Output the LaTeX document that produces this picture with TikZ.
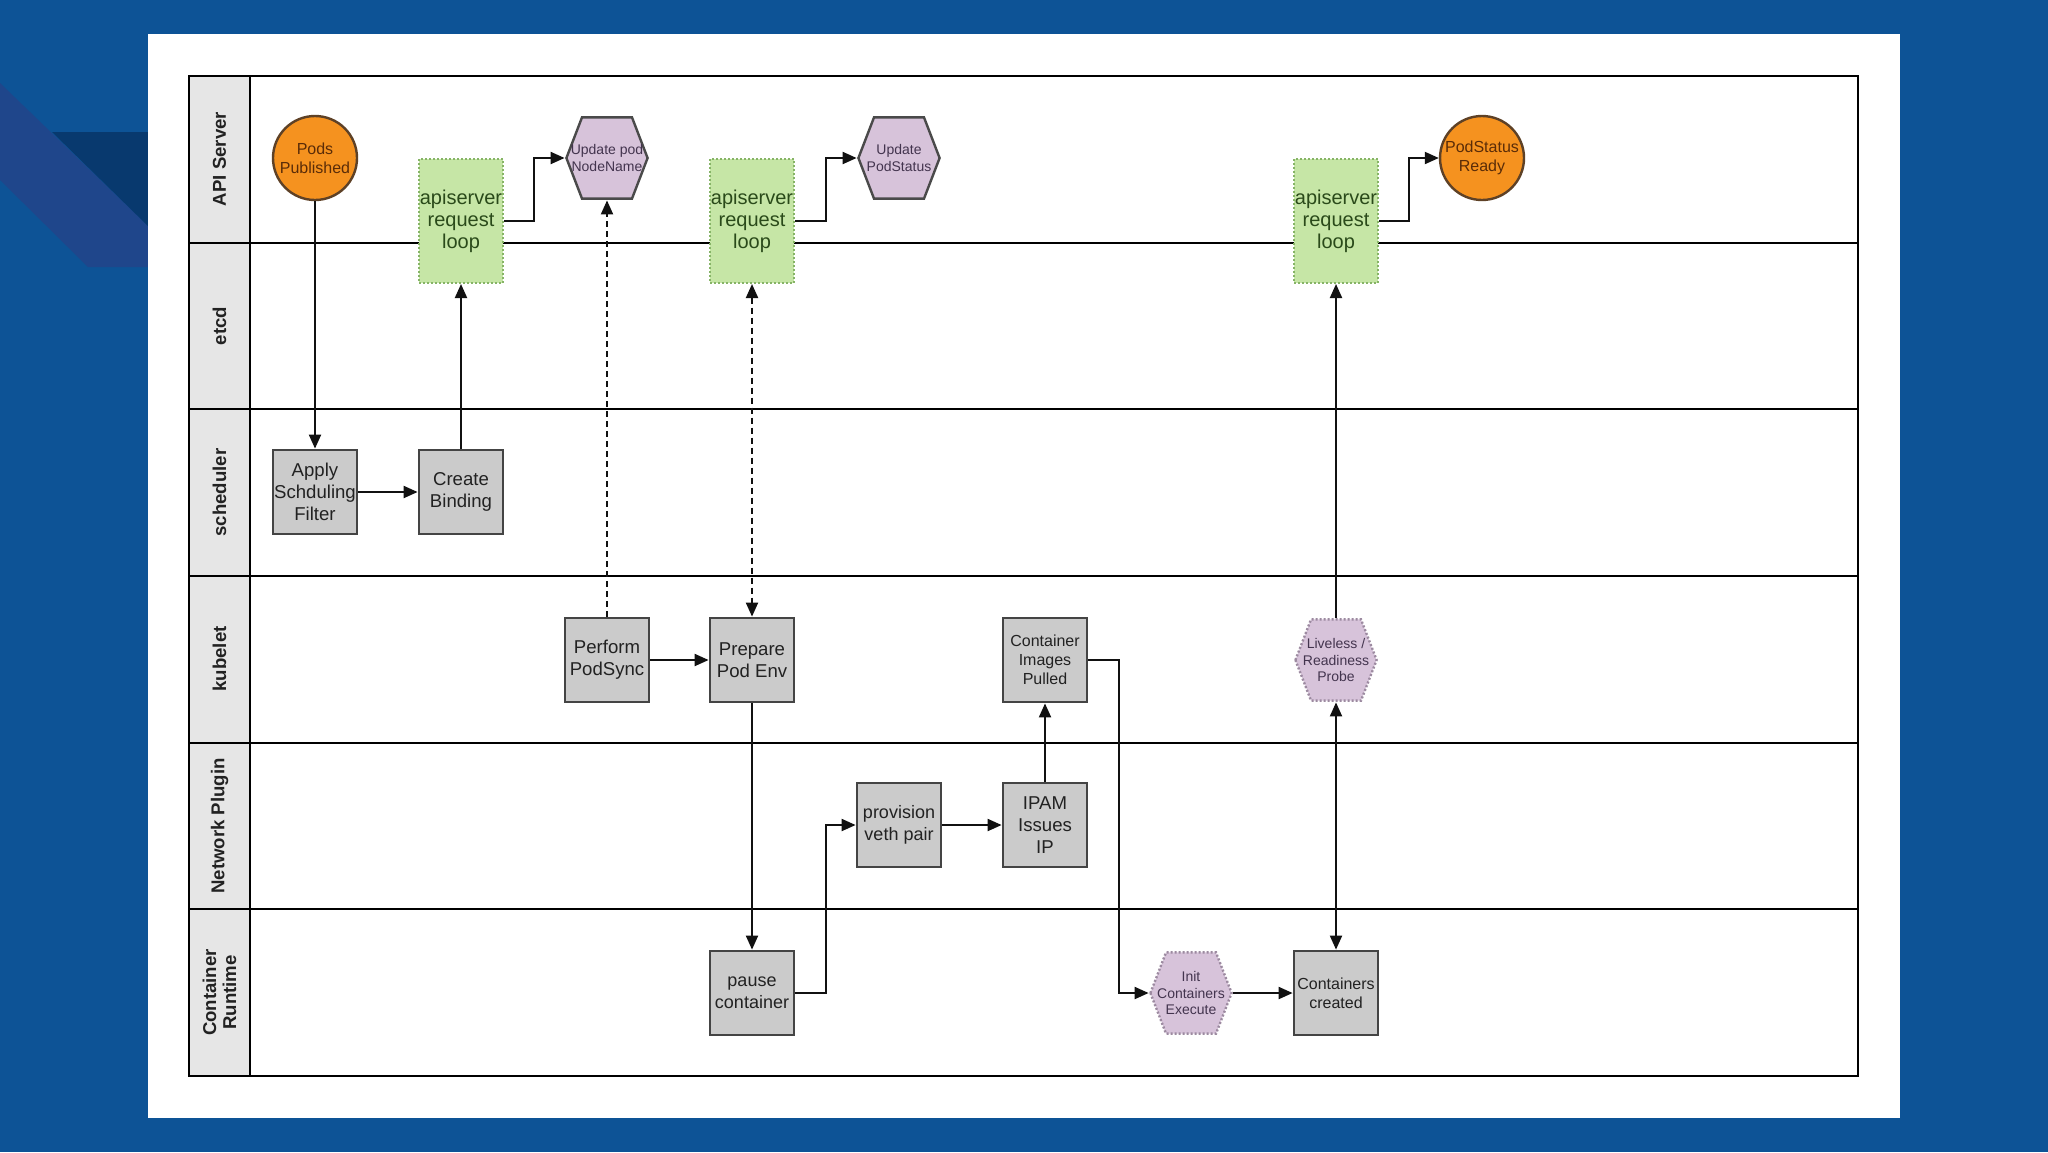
\documentclass[tikz,border=0pt]{standalone}
\usepackage{fontspec}
\setmainfont{Liberation Sans}
\usetikzlibrary{arrows.meta,calc}
\definecolor{bgblue}{HTML}{0D5396}
\definecolor{bandblue}{HTML}{1F468B}
\definecolor{darkblue}{HTML}{08396E}
\definecolor{lanegray}{HTML}{E6E6E6}
\definecolor{boxgray}{HTML}{CBCBCB}
\definecolor{boxline}{HTML}{444444}
\definecolor{boxtext}{HTML}{222222}
\definecolor{apigreen}{HTML}{C6E6A6}
\definecolor{apiline}{HTML}{86B466}
\definecolor{apitext}{HTML}{2A4A1A}
\definecolor{hexfill}{HTML}{D7C3DA}
\definecolor{hexline}{HTML}{4A4A4A}
\definecolor{hexdot}{HTML}{9C8AA0}
\definecolor{hextext}{HTML}{43344E}
\definecolor{evorange}{HTML}{F5921F}
\definecolor{evline}{HTML}{5E4126}
\definecolor{evtext}{HTML}{5A2C08}
\definecolor{connline}{HTML}{111111}
\begin{document}
\begin{tikzpicture}[x=0.5pt,y=-0.5pt,
  >={Triangle[length=7pt,width=6pt]},
  lanetitle/.style={rotate=90, font=\bfseries\fontsize{9.3}{10}\selectfont, text=boxtext, align=center},
  greybox/.style={rectangle, draw=boxline, line width=1.4pt, fill=boxgray, minimum width=42pt, minimum height=42pt, inner sep=0pt, align=center, text=boxtext, font=\fontsize{9.3}{11}\selectfont},
  apibox/.style={rectangle, draw=apiline, line width=1pt, dash pattern=on 1pt off 1pt, fill=apigreen, minimum width=42pt, minimum height=62pt, inner sep=0pt, align=center, text=apitext, font=\fontsize{10}{11}\selectfont},
  eventcircle/.style={circle, draw=evline, line width=1.2pt, fill=evorange, minimum size=42pt, inner sep=0pt, align=center, text=evtext, font=\fontsize{8}{9.5}\selectfont},
  hexshape/.style 2 args={rectangle, minimum width=42pt, minimum height=42pt, inner sep=0pt, align=center, text=hextext, font=\fontsize{7}{8.3}\selectfont,
    path picture={\filldraw[fill=hexfill, draw=#1, line width=1.2pt, #2]
      ([xshift=0.7pt]path picture bounding box.west)
      -- ([xshift=8.5pt,yshift=-0.7pt]path picture bounding box.north west)
      -- ([xshift=-8.5pt,yshift=-0.7pt]path picture bounding box.north east)
      -- ([xshift=-0.7pt]path picture bounding box.east)
      -- ([xshift=-8.5pt,yshift=0.7pt]path picture bounding box.south east)
      -- ([xshift=8.5pt,yshift=0.7pt]path picture bounding box.south west) -- cycle;}},
  solidhex/.style={hexshape={hexline}{solid}},
  dottedhex/.style={hexshape={hexdot}{dash pattern=on 1pt off 1pt}},
  conn/.style={draw=connline, line width=1pt, ->},
  bothconn/.style={draw=connline, line width=1pt, <->},
  dashconn/.style={draw=connline, line width=1pt, dash pattern=on 3pt off 2pt}
]
\useasboundingbox (0,0) rectangle (2048,1152);
% background
\fill[bgblue] (0,0) rectangle (2048,1152);
\fill[bandblue] (0,83) -- (148,226) -- (148,267) -- (88,267) -- (0,180) -- cycle;
\fill[darkblue] (52,132) -- (148,132) -- (148,226) -- cycle;
\fill[white] (148,34) rectangle (1900,1118);
% swimlane table
\fill[lanegray] (189,76) rectangle (250,1076);
\foreach \yy in {242.7,409.3,576,742.7,909.3}
  \draw[line width=1pt] (189,\yy) -- (1858,\yy);
\draw[line width=1pt] (250,76) -- (250,1076);
\draw[line width=1.3pt] (189,76) rectangle (1858,1076);
\node[lanetitle] (lApi) at (219.5,159) {API Server};
\node[lanetitle] (lEtcd) at (219.5,326) {etcd};
\node[lanetitle] (lSched) at (219.5,492.5) {scheduler};
\node[lanetitle] (lKubelet) at (219.5,659) {kubelet};
\node[lanetitle] (lNet) at (219.5,826) {Network Plugin};
\node[lanetitle] (lRuntime) at (219.5,992.5) {Container\\Runtime};
% nodes
\node[eventcircle] (pods) at (315,158) {Pods\\Published};
\node[apibox] (api1) at (461,221) {apiserver\\request\\loop};
\node[solidhex] (nodename) at (607,158) {Update pod\\NodeName};
\node[apibox] (api2) at (752,221) {apiserver\\request\\loop};
\node[solidhex] (podstatus) at (899,158) {Update\\PodStatus};
\node[apibox] (api3) at (1336,221) {apiserver\\request\\loop};
\node[eventcircle] (ready) at (1482,158) {PodStatus\\Ready};
\node[greybox] (apply) at (315,492) {Apply\\Schduling\\Filter};
\node[greybox] (binding) at (461,492) {Create\\Binding};
\node[greybox] (podsync) at (607,660) {Perform\\PodSync};
\node[greybox] (podenv) at (752,660) {Prepare\\Pod Env};
\node[greybox, font=\fontsize{8}{9.5}\selectfont] (images) at (1045,660) {Container\\Images\\Pulled};
\node[dottedhex] (probe) at (1336,660) {Liveless /\\Readiness\\Probe};
\node[greybox, font=\fontsize{9}{11}\selectfont] (veth) at (899,825) {provision\\veth pair};
\node[greybox] (ipam) at (1045,825) {IPAM\\Issues\\IP};
\node[greybox, font=\fontsize{9}{11}\selectfont] (pause) at (752,993) {pause\\container};
\node[dottedhex] (init) at (1191,993) {Init\\Containers\\Execute};
\node[greybox, font=\fontsize{8}{9.5}\selectfont] (created) at (1336,993) {Containers\\created};
% connectors
\draw[conn] (pods) -- (apply);
\draw[conn] (apply) -- (binding);
\draw[conn] (binding) -- (api1);
\draw[conn] (api1.east) -| ($(api1.east)!0.5!(nodename.west)$) |- (nodename.west);
\draw[dashconn, ->] (podsync) -- (nodename);
\draw[dashconn, <->] (api2) -- (podenv);
\draw[conn] (api2.east) -| ($(api2.east)!0.5!(podstatus.west)$) |- (podstatus.west);
\draw[conn] (podsync) -- (podenv);
\draw[conn] (podenv) -- (pause);
\draw[conn] (pause.east) -| ($(pause.east)!0.5!(veth.west)$) |- (veth.west);
\draw[conn] (veth) -- (ipam);
\draw[conn] (ipam) -- (images);
\draw[conn] (images.east) -| ($(images.east)!0.5!(init.west)$) |- (init.west);
\draw[conn] (init) -- (created);
\draw[bothconn] (created) -- (probe);
\draw[conn] (probe) -- (api3);
\draw[conn] (api3.east) -| ($(api3.east)!0.5!(ready.west)$) |- (ready.west);
\end{tikzpicture}
\end{document}
